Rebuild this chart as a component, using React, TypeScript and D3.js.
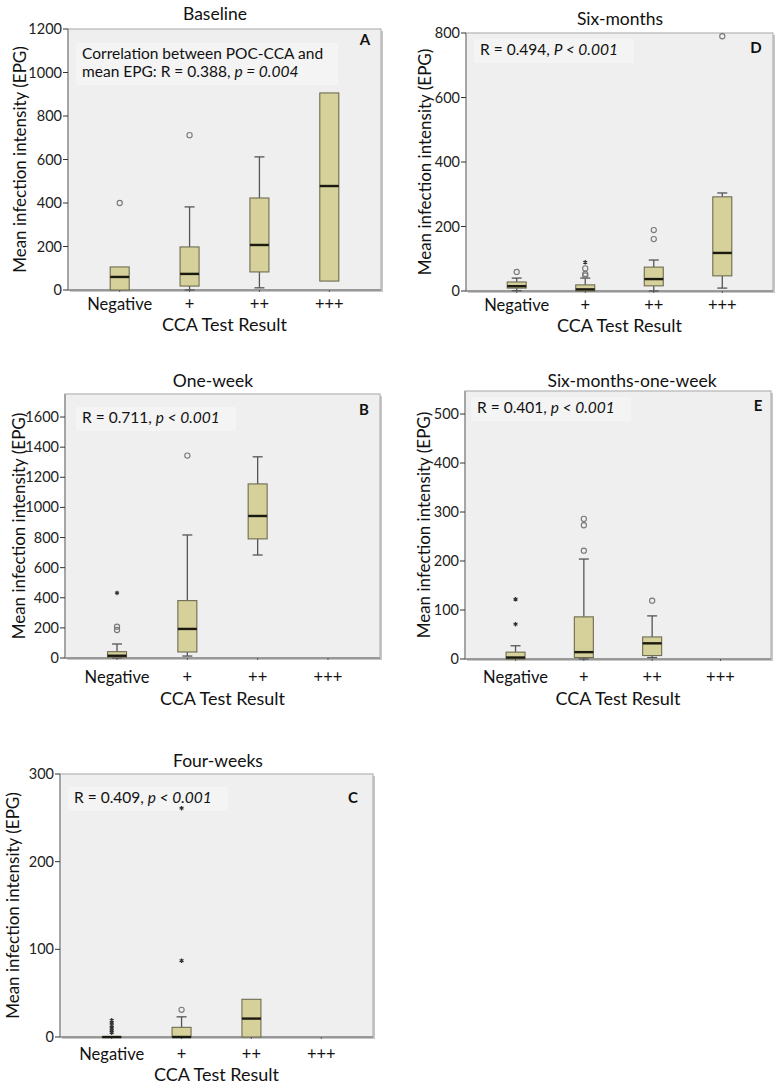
import React from 'react';
import * as d3 from 'd3';

const categories = ['Negative', '+', '++', '+++'];

// each box: [lower whisker, Q1, median, Q3, upper whisker], null = no data
const baselineBoxes = [[0, 0, 60, 106, 106], [0, 18, 74, 198, 382], [10, 83, 207, 423, 612], [41, 41, 478, 906, 906]];
const baselineOutliers = [[400], [712], [], []];
const baselineExtremes = [[], [], [], []];
const baselineTicks = [0, 200, 400, 600, 800, 1000, 1200];

const oneWeekBoxes = [[0, 5, 15, 42, 93], [13, 40, 193, 381, 817], [684, 791, 943, 1156, 1336], null];
const oneWeekOutliers = [[186, 208], [1344], [], []];
const oneWeekExtremes = [[432], [], [], []];
const oneWeekTicks = [0, 200, 400, 600, 800, 1000, 1200, 1400, 1600];

const fourWeekBoxes = [[0, 0, 0, 0, 0], [0, 0, 0, 11, 23], [0, 0, 21, 43, 43], null];
const fourWeekOutliers = [[], [31], [], []];
const fourWeekExtremes = [[5, 7, 10, 13, 16, 19], [87, 261], [], []];
const fourWeekTicks = [0, 100, 200, 300];

const sixMonthBoxes = [[1, 9, 15, 28, 40], [0, 0, 5, 19, 40], [0, 16, 37, 74, 96], [9, 47, 118, 292, 304]];
const sixMonthOutliers = [[59], [48, 53, 70], [161, 189], [790]];
const sixMonthExtremes = [[], [89], [], []];
const sixMonthTicks = [0, 200, 400, 600, 800];

const sixMonthWeekBoxes = [[0, 0, 3, 14, 27], [0, 3, 14, 86, 204], [3, 7, 32, 45, 88], null];
const sixMonthWeekOutliers = [[], [221, 273, 286], [119], []];
const sixMonthWeekExtremes = [[71, 122], [], [], []];
const sixMonthWeekTicks = [0, 100, 200, 300, 400, 500];

const FONT = 'Lato, "Open Sans", sans-serif';
const BOX_FILL = '#d6d09b';
const BOX_STROKE = '#6e6c52';

type PanelProps = {
  title: string;
  letter: string;
  note: React.ReactNode[];
  boxes: (number[] | null)[];
  outliers: number[][];
  extremes: number[][];
  ticks: number[];
  yMax: number;
  frame: { x0: number; x1: number; y0: number; y1: number };
  titlePos: [number, number];
  noteX: number;
  noteY: number;
  noteW: number;
  letterPos: [number, number];
  yLabelX: number;
  xLabelY: number;
  xTitleY: number;
};

const star = d3.symbol(d3.symbolAsterisk, 14)();

function Panel(p: PanelProps) {
  const { frame } = p;
  const x = d3.scalePoint<string>().domain(categories).range([frame.x0, frame.x1]).padding(0.74);
  const y = d3.scaleLinear().domain([0, p.yMax]).range([frame.y1, frame.y0]);
  const bw = 19;
  const cap = 10;
  const midX = (frame.x0 + frame.x1) / 2;
  const midY = (frame.y0 + frame.y1) / 2;

  return (
    <g fontFamily={FONT}>
      <text x={p.titlePos[0]} y={p.titlePos[1]} textAnchor="middle" fontSize={17.5} fill="#111">{p.title}</text>
      {/* frame with a soft shadow */}
      <rect x={frame.x0 + 2} y={frame.y0 + 2} width={frame.x1 - frame.x0} height={frame.y1 - frame.y0} fill="#c8c8c8" />
      <rect x={frame.x0} y={frame.y0} width={frame.x1 - frame.x0} height={frame.y1 - frame.y0} fill="#efefef" stroke="#b4b4b4" strokeWidth={1.2} />
      <rect x={p.noteX - 6} y={p.noteY - 16} width={p.noteW} height={p.note.length * 18 + 6} fill="#f4f4f4" />
      {p.note.map((n, i) => (
        <text key={i} x={p.noteX} y={p.noteY + i * 18} fontSize={15.5} fill="#111">{n}</text>
      ))}
      <text x={p.letterPos[0]} y={p.letterPos[1]} fontSize={15} fontWeight="bold" textAnchor="middle" fill="#111">{p.letter}</text>

      {/* axes */}
      <line x1={frame.x0} x2={frame.x0} y1={frame.y0} y2={frame.y1} stroke="#8a8a8a" strokeWidth={1.2} />
      <line x1={frame.x0} x2={frame.x1} y1={frame.y1} y2={frame.y1} stroke="#8a8a8a" strokeWidth={1.4} />
      {p.ticks.map(t => (
        <g key={t}>
          <line x1={frame.x0 - 5} x2={frame.x0} y1={y(t)} y2={y(t)} stroke="#333" strokeWidth={1} />
          <text x={frame.x0 - 6} y={y(t)} dy="0.35em" textAnchor="end" fontSize={14.5} fill="#222">{t}</text>
        </g>
      ))}
      {categories.map(c => (
        <g key={c}>
          <line x1={x(c)} x2={x(c)} y1={frame.y1} y2={frame.y1 + 2} stroke="#555" />
          <text x={x(c)} y={p.xLabelY} textAnchor="middle" fontSize={16.5} fill="#111">{c}</text>
        </g>
      ))}
      <text x={midX} y={p.xTitleY} textAnchor="middle" fontSize={18} fill="#111">CCA Test Result</text>
      <text transform={`translate(${p.yLabelX},${midY}) rotate(-90)`} textAnchor="middle" dy="0.35em" fontSize={17} fill="#111">
        Mean infection intensity (EPG)
      </text>

      {/* boxes */}
      {p.boxes.map((b, i) => {
        if (!b) return null;
        const cx = x(categories[i]) as number;
        const [lo, q1, med, q3, hi] = b;
        return (
          <g key={i}>
            {hi > q3 && (
              <g stroke="#555" strokeWidth={1.3}>
                <line x1={cx} x2={cx} y1={y(q3)} y2={y(hi)} />
                <line x1={cx - cap / 2} x2={cx + cap / 2} y1={y(hi)} y2={y(hi)} />
              </g>
            )}
            {lo < q1 && (
              <g stroke="#555" strokeWidth={1.3}>
                <line x1={cx} x2={cx} y1={y(q1)} y2={y(lo)} />
                <line x1={cx - cap / 2} x2={cx + cap / 2} y1={y(lo)} y2={y(lo)} />
              </g>
            )}
            <rect x={cx - bw / 2} y={y(q3)} width={bw} height={Math.max(y(q1) - y(q3), 0.5)} fill={BOX_FILL} stroke={BOX_STROKE} strokeWidth={1.1} />
            <line x1={cx - bw / 2} x2={cx + bw / 2} y1={y(med)} y2={y(med)} stroke="#1a1a10" strokeWidth={2.4} />
          </g>
        );
      })}
      {p.outliers.map((vals, i) =>
        vals.map((v, j) => (
          <circle key={`o${i}-${j}`} cx={x(categories[i])} cy={y(v)} r={2.6} fill="none" stroke="#777" strokeWidth={1.1} />
        ))
      )}
      {p.extremes.map((vals, i) =>
        vals.map((v, j) => (
          <path key={`e${i}-${j}`} d={star as string} transform={`translate(${x(categories[i])},${y(v)})`} fill="none" stroke="#333" strokeWidth={1.2} />
        ))
      )}
    </g>
  );
}

export default function App() {
  return (
    <div style={{ position: 'absolute', left: 0, top: 0 }}>
      <svg width={782} height={1088} style={{ display: 'block', background: '#fff' }}>
        <Panel
          title="Baseline" letter="A"
          note={['Correlation between POC-CCA  and', <>mean EPG: R = 0.388, <tspan fontStyle="italic">p = 0.004</tspan></>]}
          boxes={baselineBoxes} outliers={baselineOutliers} extremes={baselineExtremes}
          ticks={baselineTicks} yMax={1200}
          frame={{ x0: 68, x1: 381, y0: 29, y1: 290 }}
          titlePos={[215, 20]} noteX={82} noteY={59} noteW={262} letterPos={[365, 45]}
          yLabelX={20} xLabelY={310} xTitleY={331}
        />
        <Panel
          title="Six-months" letter="D"
          note={[<>R = 0.494, <tspan fontStyle="italic">P &lt; 0.001</tspan></>]}
          boxes={sixMonthBoxes} outliers={sixMonthOutliers} extremes={sixMonthExtremes}
          ticks={sixMonthTicks} yMax={800}
          frame={{ x0: 466, x1: 773, y0: 33, y1: 291 }}
          titlePos={[620, 25]} noteX={480} noteY={55} noteW={160} letterPos={[756, 53]}
          yLabelX={425} xLabelY={311} xTitleY={332}
        />
        <Panel
          title="One-week" letter="B"
          note={[<>R = 0.711, <tspan fontStyle="italic">p &lt; 0.001</tspan></>]}
          boxes={oneWeekBoxes} outliers={oneWeekOutliers} extremes={oneWeekExtremes}
          ticks={oneWeekTicks} yMax={1753}
          frame={{ x0: 65, x1: 380, y0: 394, y1: 658 }}
          titlePos={[213, 387]} noteX={82} noteY={423} noteW={160} letterPos={[364, 415]}
          yLabelX={19} xLabelY={683} xTitleY={705}
        />
        <Panel
          title="Six-months-one-week" letter="E"
          note={[<>R = 0.401, <tspan fontStyle="italic">p &lt; 0.001</tspan></>]}
          boxes={sixMonthWeekBoxes} outliers={sixMonthWeekOutliers} extremes={sixMonthWeekExtremes}
          ticks={sixMonthWeekTicks} yMax={547}
          frame={{ x0: 465, x1: 771, y0: 391, y1: 659 }}
          titlePos={[632, 387]} noteX={477} noteY={413} noteW={160} letterPos={[758, 411]}
          yLabelX={424} xLabelY={683} xTitleY={705}
        />
        <Panel
          title="Four-weeks" letter="C"
          note={[<>R = 0.409, <tspan fontStyle="italic">p &lt; 0.001</tspan></>]}
          boxes={fourWeekBoxes} outliers={fourWeekOutliers} extremes={fourWeekExtremes}
          ticks={fourWeekTicks} yMax={300}
          frame={{ x0: 60, x1: 373, y0: 774, y1: 1037 }}
          titlePos={[218, 767]} noteX={74} noteY={803} noteW={160} letterPos={[353, 803]}
          yLabelX={13} xLabelY={1060} xTitleY={1081}
        />
      </svg>
    </div>
  );
}
